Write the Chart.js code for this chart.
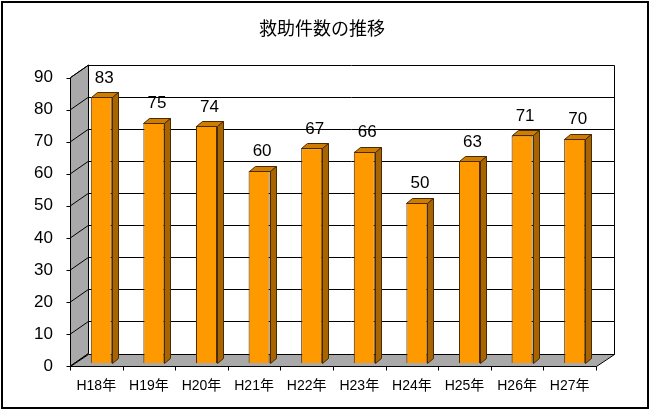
<!DOCTYPE html>
<html lang="ja">
<head>
<meta charset="utf-8">
<title>救助件数の推移</title>
<script src="https://cdn.jsdelivr.net/npm/chart.js@4.4.1/dist/chart.umd.min.js"></script>
<style>
  html, body { margin: 0; padding: 0; background: #fff; }
  #wrap { width: 650px; height: 410px; }
  canvas { display: block; background: #fff; }
</style>
</head>
<body>
<div id="wrap"><canvas id="rescue-chart" width="650" height="410"></canvas></div>
<script>
const chartTitle = '救助件数の推移';
const categories = ['H18年', 'H19年', 'H20年', 'H21年', 'H22年', 'H23年', 'H24年', 'H25年', 'H26年', 'H27年'];
const rescueCounts = [83, 75, 74, 60, 67, 66, 50, 63, 71, 70];
const yTickValues = [0, 10, 20, 30, 40, 50, 60, 70, 80, 90];

const numFont = "'Liberation Sans', 'Noto Sans CJK JP', sans-serif";
const jpFont = "'Noto Sans CJK JP', sans-serif";

// 3D offsets relative to the plane where bars are drawn
const FRONT = { dx: -5, dy: 3 };
const BACK = { dx: 13, dy: -9.5 };
const DEPTH = { dx: 6, dy: -5 };

function crisp(v) {
    return Math.round(v) + 0.5;
}

function line(ctx, x1, y1, x2, y2) {
    ctx.beginPath();
    ctx.moveTo(x1, y1);
    ctx.lineTo(x2, y2);
    ctx.stroke();
}

function poly(ctx, pts, fill) {
    ctx.beginPath();
    ctx.moveTo(pts[0][0], pts[0][1]);
    for (let i = 1; i < pts.length; i++) ctx.lineTo(pts[i][0], pts[i][1]);
    ctx.closePath();
    ctx.fillStyle = fill;
    ctx.fill();
    ctx.stroke();
}

const walls3d = {
    id: 'walls3d',
    beforeDatasetsDraw(chart) {
        const ctx = chart.ctx;
        const xs = chart.scales.x, ys = chart.scales.y;
        const l = xs.left, r = xs.right;
        const yMin = yTickValues[0], yMax = yTickValues[yTickValues.length - 1];
        const y0 = ys.getPixelForValue(yMin), yT = ys.getPixelForValue(yMax);

        ctx.save();
        ctx.lineWidth = 1;
        ctx.strokeStyle = '#000';

        // back wall
        const bl = crisp(l + BACK.dx), br = crisp(r + BACK.dx);
        ctx.fillStyle = '#fff';
        ctx.fillRect(bl, yT + BACK.dy, br - bl, y0 - yT);
        yTickValues.forEach(v => {
            const py = crisp(ys.getPixelForValue(v) + BACK.dy);
            line(ctx, bl, py, br, py);
        });
        line(ctx, br, crisp(yT + BACK.dy), br, crisp(y0 + BACK.dy));

        // left side wall
        const fl = crisp(l + FRONT.dx);
        poly(ctx, [
            [fl, y0 + FRONT.dy], [fl, yT + FRONT.dy],
            [bl, yT + BACK.dy], [bl, y0 + BACK.dy]
        ], '#a9a9a9');
        yTickValues.forEach(v => {
            const py = ys.getPixelForValue(v);
            line(ctx, fl, py + FRONT.dy, bl, py + BACK.dy);
            line(ctx, fl - 4, crisp(py + FRONT.dy), fl, crisp(py + FRONT.dy));
        });

        // floor
        const fr = crisp(r + FRONT.dx);
        const fy = crisp(y0 + FRONT.dy), by = crisp(y0 + BACK.dy);
        poly(ctx, [[fl, fy], [fr, fy], [br, by], [bl, by]], '#a9a9a9');

        // category ticks on the front edge
        const n = categories.length;
        for (let i = 0; i <= n; i++) {
            const tx = crisp(l + (r - l) * i / n + FRONT.dx);
            line(ctx, tx, fy, tx, fy + 4);
        }
        ctx.restore();
    },
    afterDatasetsDraw(chart) {
        const ctx = chart.ctx;
        ctx.save();
        ctx.lineWidth = 1;
        ctx.strokeStyle = '#4a2a00';
        chart.getDatasetMeta(0).data.forEach((bar, i) => {
            const { x, y, base, width } = bar.getProps(['x', 'y', 'base', 'width'], true);
            const left = Math.round(x - width / 2) + 0.5;
            const right = Math.round(x + width / 2) + 0.5;
            const top = Math.round(y) + 0.5;
            const bot = Math.round(base) + 0.5;
            // top face
            poly(ctx, [
                [left, top], [left + DEPTH.dx, top + DEPTH.dy],
                [right + DEPTH.dx, top + DEPTH.dy], [right, top]
            ], '#cf7d00');
            // side face
            poly(ctx, [
                [right, top], [right + DEPTH.dx, top + DEPTH.dy],
                [right + DEPTH.dx, bot + DEPTH.dy], [right, bot]
            ], '#a86400');

            ctx.fillStyle = '#000';
            ctx.font = '17px ' + numFont;
            ctx.textAlign = 'center';
            ctx.textBaseline = 'middle';
            ctx.fillText(String(rescueCounts[i]), x + 3, y - 19);
        });
        ctx.restore();
    },
    afterDraw(chart) {
        const ctx = chart.ctx;
        ctx.save();
        ctx.lineWidth = 2;
        ctx.strokeStyle = '#000';
        ctx.strokeRect(2, 2, chart.width - 4, chart.height - 4);
        ctx.restore();
    }
};

new Chart(document.getElementById('rescue-chart'), {
    type: 'bar',
    data: {
        labels: categories,
        datasets: [{
            data: rescueCounts,
            backgroundColor: '#ff9900',
            borderColor: '#4a2a00',
            borderWidth: 1,
            barPercentage: 0.4,
            categoryPercentage: 1
        }]
    },
    options: {
        responsive: false,
        animation: false,
        // left padding pushes the title to the right, the y axis gets the rest
        layout: { padding: { left: 43, right: 49, top: 0, bottom: 0 } },
        plugins: {
            legend: { display: false },
            tooltip: { enabled: false },
            title: {
                display: true,
                text: chartTitle,
                color: '#000',
                font: { family: jpFont, size: 18, weight: 'normal' },
                padding: { top: 17, bottom: 36 }
            }
        },
        scales: {
            x: {
                grid: { display: false, drawTicks: false },
                border: { display: false },
                ticks: {
                    color: '#000',
                    font: { family: numFont, size: 14 },
                    padding: 15,
                    labelOffset: -5,
                    maxRotation: 0,
                    autoSkip: false
                },
                afterFit(scale) { scale.height = 47; }
            },
            y: {
                min: yTickValues[0],
                max: yTickValues[yTickValues.length - 1],
                grid: { display: false, drawTicks: false },
                border: { display: false },
                ticks: {
                    color: '#000',
                    font: { family: numFont, size: 17 },
                    // mirrored labels are not clipped to the narrow axis box,
                    // negative padding brings them back left of the plot
                    mirror: true,
                    crossAlign: 'far',
                    padding: -41,
                    labelOffset: 3
                },
                afterBuildTicks(scale) {
                    scale.ticks = yTickValues.map(v => ({ value: v }));
                },
                afterFit(scale) { scale.width = 32; }
            }
        }
    },
    plugins: [walls3d]
});
</script>
</body>
</html>
